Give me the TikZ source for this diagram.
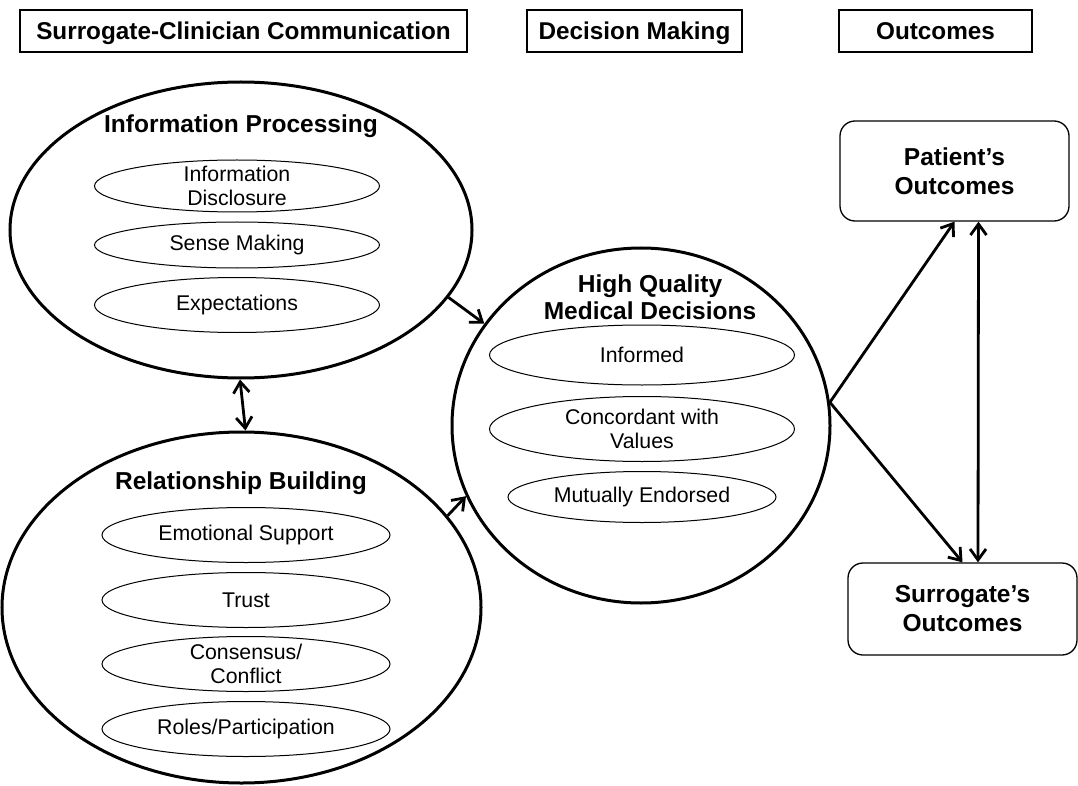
\documentclass[tikz,border=0pt]{standalone}
\usepackage{fontspec}
\setmainfont{Liberation Sans}
\usetikzlibrary{shapes.geometric, arrows.meta}

\begin{document}
\begin{tikzpicture}
[x=1pt, y=-1pt, >={Straight Barb[length=11pt, width=16pt]},
 head/.style={draw, line width=1.8pt, minimum height=42pt, inner sep=0, text height=22pt, text depth=4pt, font=\bfseries\fontsize{24.3}{28}\selectfont},
 big/.style={draw, ellipse, line width=3pt, inner sep=0},
 item/.style={draw, ellipse, line width=1pt, inner xsep=0, inner ysep=-12pt, align=center, font=\fontsize{21.3}{24.5}\selectfont},
 title/.style={align=center, font=\bfseries\fontsize{24.5}{27}\selectfont},
 outbox/.style={draw, rounded corners=15pt, line width=1.3pt, minimum width=229pt, align=center, font=\bfseries\fontsize{24.5}{29}\selectfont},
 link/.style={line width=2.8pt}]
\useasboundingbox (0,0) rectangle (1078,786);
% column headings
\node (h1) [head, minimum width=447pt] at (243.5,31) {Surrogate-Clinician Communication};
\node (h2) [head, minimum width=215pt] at (634.5,31) {Decision Making};
\node (h3) [head, minimum width=193pt] at (935.5,31) {Outcomes};
% large ellipses
\node (ip) [big, minimum width=462pt, minimum height=296pt] at (241,230) {};
\node (rb) [big, minimum width=479pt, minimum height=351pt] at (241.5,607.5) {};
\node (hq) [big, minimum width=378pt, minimum height=355pt] at (641,425.5) {};
\node (ipt) [title] at (241,126) {Information Processing};
\node (rbt) [title] at (241,483) {Relationship Building};
\node (hqt) [title] at (650,297) {High Quality\\Medical Decisions};
% inner ellipses
\node (i1) [item, minimum width=285pt, minimum height=52pt] at (237,186) {Information\\Disclosure};
\node (i2) [item, minimum width=285pt, minimum height=46pt] at (237,245) {Sense Making};
\node (i3) [item, minimum width=285pt, minimum height=55pt] at (237,305) {Expectations};
\node (r1) [item, minimum width=288pt, minimum height=55pt] at (246,535) {Emotional Support};
\node (r2) [item, minimum width=288pt, minimum height=55pt] at (246,600) {Trust};
\node (r3) [item, minimum width=288pt, minimum height=55pt] at (246,664) {Consensus/\\Conflict};
\node (r4) [item, minimum width=288pt, minimum height=55pt] at (246,729) {Roles/Participation};
\node (d1) [item, minimum width=305pt, minimum height=60pt] at (642,355) {Informed};
\node (d2) [item, minimum width=305pt, minimum height=65pt] at (642,429) {Concordant with\\Values};
\node (d3) [item, minimum width=268pt, minimum height=51pt] at (642,497) {Mutually Endorsed};
% outcome boxes
\node (po) [outbox, minimum height=100pt] at (954.5,171) {Patient's\\Outcomes};
\node (so) [outbox, minimum height=92pt] at (962.5,609) {Surrogate's\\Outcomes};
% arrows
\draw [->, link] (ip.-18) -- (hq.147);
\draw [->, link] (rb.24) -- (hq.202);
\draw [<->, link] ([xshift=-1pt]ip.south) -- ([xshift=4pt]rb.north);
\draw [->, link] (hq.7) -- (po.south);
\draw [->, link] (hq.7) -- (so.north);
\draw [<->, link] ([xshift=24pt]po.south) -- ([xshift=15.5pt]so.north);
\end{tikzpicture}
\end{document}
